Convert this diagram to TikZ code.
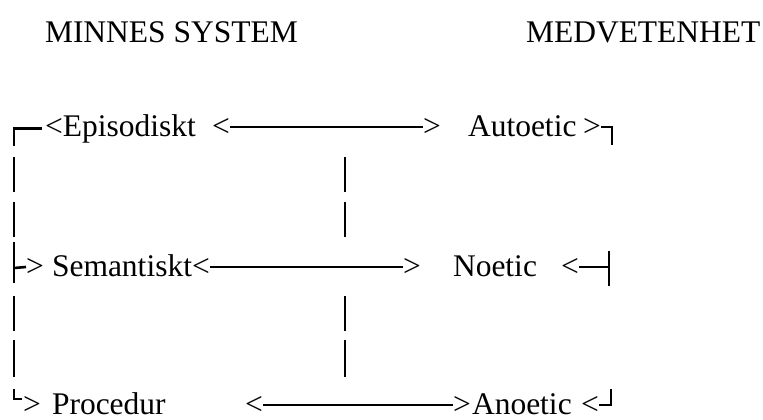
\documentclass[tikz,border=0pt]{standalone}
\usepackage{fontspec}
\setmainfont{Liberation Serif}
\begin{document}
\tikzset{
  txt/.style={anchor=base west, inner sep=0pt, outer sep=0pt, font=\fontsize{15.75pt}{18pt}\selectfont},
  bar/.style={line width=1.3pt, line cap=butt},
}
\begin{tikzpicture}[x=0.5pt,y=-0.5pt]
\useasboundingbox (0,0) rectangle (763,419);
% titles
\node[txt] (t1) at (45,42) {MINNES SYSTEM};
\node[txt] (t2) at (526,42) {MEDVETENHET};
% row 1
\node[txt] (epi) at (45,136) {<Episodiskt};
\node[txt] (l1) at (212,136) {<};
\node[txt] (r1) at (423,136) {>};
\node[txt] (auto) at (468,136) {Autoetic};
\node[txt] (g1) at (583,136) {>};
% row 2
\node[txt] (g2) at (26,276) {>};
\node[txt] (sem) at (52,276) {Semantiskt};
\node[txt] (l2) at (sem.base east) {<};
\node[txt] (r2) at (403,276) {>};
\node[txt] (noe) at (453,276) {Noetic};
\node[txt] (l3) at (561,276) {<};
% row 3
\node[txt] (g3) at (23,414) {>};
\node[txt] (proc) at (52,414) {Procedur};
\node[txt] (l4) at (245,414) {<};
\node[txt] (r4) at (453,414) {>};
\node[txt] (ano) at (472,414) {Anoetic};
\node[txt] (l5) at (581,414) {<};
% coordinates
\coordinate (nw) at (14,146);
\coordinate (ne) at (612,145);
\coordinate (wtop) at (14,242);
\coordinate (wbot) at (14,283);
\coordinate (wstub) at (14,268);
\coordinate (etop) at (609,251);
\coordinate (ebot) at (609,286);
\coordinate (sw) at (14,389);
\coordinate (swc) at (14,399);
\coordinate (swe) at (22,399);
\coordinate (se) at (611,389);
% horizontal connectors
\draw[bar] (l1.east) -- (r1.west);
\draw[bar] (l2.east) -- (r2.west);
\draw[bar] (l4.east) -- (r4.west);
% corners
\draw[bar] (nw) |- ([xshift=-1.5pt]epi.west);
\draw[bar] (g1.east) -| (ne);
\draw[bar] (wtop) -- (wbot);
\draw[bar] (wstub) -- (g2.west);
\draw[bar] (etop) -- (ebot);
\draw[bar] (l3.east) -- (l3.east -| etop);
\draw[bar] (sw) -- (swc) -- (swe);
\draw[bar] (l5.east) -| (se);
% vertical bars
\foreach \x in {14,345}{
  \draw[bar] (\x,157) -- (\x,192);
  \draw[bar] (\x,202) -- (\x,237);
  \draw[bar] (\x,296) -- (\x,331);
  \draw[bar] (\x,340) -- (\x,377);
}
\end{tikzpicture}
\end{document}
